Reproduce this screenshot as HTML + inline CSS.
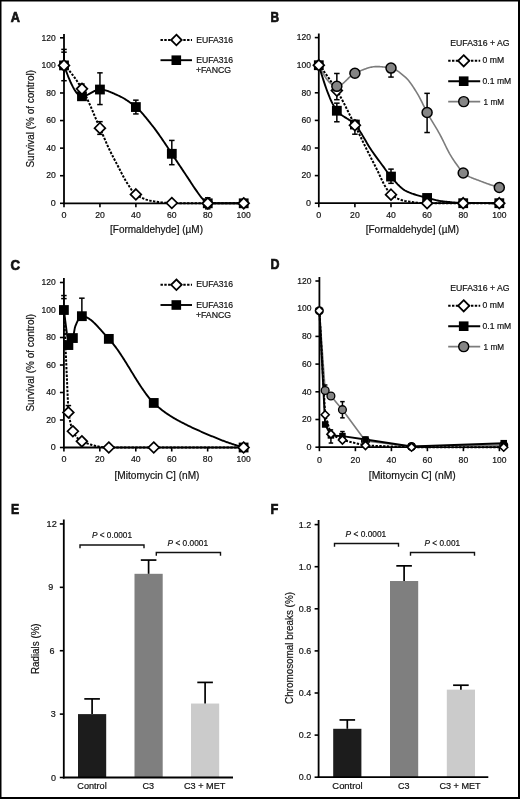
<!DOCTYPE html>
<html><head><meta charset="utf-8"><style>
html,body{margin:0;padding:0;background:#fff;}
body{width:520px;height:799px;overflow:hidden;font-family:"Liberation Sans", sans-serif;}
svg{display:block;filter:blur(0.35px);}
</style></head><body>
<svg width="520" height="799" viewBox="0 0 520 799" font-family='"Liberation Sans", sans-serif' fill="#111"><style>text{stroke:#111;stroke-width:0.2px;paint-order:stroke}</style><rect x="0" y="0" width="520" height="799" fill="#000"/><rect x="1.5" y="1.5" width="516.5" height="795.5" fill="#fff"/><text x="10.80" y="22.00" font-size="14" text-anchor="start" textLength="9.20" lengthAdjust="spacingAndGlyphs" font-weight="bold" style="stroke-width:0.7px">A</text><text x="270.60" y="22.30" font-size="14" text-anchor="start" textLength="8.60" lengthAdjust="spacingAndGlyphs" font-weight="bold" style="stroke-width:0.7px">B</text><text x="10.60" y="270.00" font-size="14" text-anchor="start" textLength="9.60" lengthAdjust="spacingAndGlyphs" font-weight="bold" style="stroke-width:0.7px">C</text><text x="270.60" y="269.40" font-size="14" text-anchor="start" textLength="9.00" lengthAdjust="spacingAndGlyphs" font-weight="bold" style="stroke-width:0.7px">D</text><text x="10.90" y="513.60" font-size="14" text-anchor="start" textLength="8.20" lengthAdjust="spacingAndGlyphs" font-weight="bold" style="stroke-width:0.7px">E</text><text x="270.60" y="513.60" font-size="14" text-anchor="start" textLength="7.80" lengthAdjust="spacingAndGlyphs" font-weight="bold" style="stroke-width:0.7px">F</text><line x1="64.00" y1="34.00" x2="64.00" y2="204.20" stroke="#000" stroke-width="1.8" /><line x1="60.00" y1="203.30" x2="64.00" y2="203.30" stroke="#000" stroke-width="1.6" /><text x="55.80" y="206.05" font-size="9" text-anchor="end" textLength="5.00" lengthAdjust="spacingAndGlyphs">0</text><line x1="60.00" y1="175.72" x2="64.00" y2="175.72" stroke="#000" stroke-width="1.6" /><text x="55.80" y="178.47" font-size="9" text-anchor="end" textLength="9.60" lengthAdjust="spacingAndGlyphs">20</text><line x1="60.00" y1="148.14" x2="64.00" y2="148.14" stroke="#000" stroke-width="1.6" /><text x="55.80" y="150.89" font-size="9" text-anchor="end" textLength="9.60" lengthAdjust="spacingAndGlyphs">40</text><line x1="60.00" y1="120.56" x2="64.00" y2="120.56" stroke="#000" stroke-width="1.6" /><text x="55.80" y="123.31" font-size="9" text-anchor="end" textLength="9.60" lengthAdjust="spacingAndGlyphs">60</text><line x1="60.00" y1="92.98" x2="64.00" y2="92.98" stroke="#000" stroke-width="1.6" /><text x="55.80" y="95.73" font-size="9" text-anchor="end" textLength="9.60" lengthAdjust="spacingAndGlyphs">80</text><line x1="60.00" y1="65.40" x2="64.00" y2="65.40" stroke="#000" stroke-width="1.6" /><text x="55.80" y="68.15" font-size="9" text-anchor="end" textLength="14.20" lengthAdjust="spacingAndGlyphs">100</text><line x1="60.00" y1="37.82" x2="64.00" y2="37.82" stroke="#000" stroke-width="1.6" /><text x="55.80" y="40.57" font-size="9" text-anchor="end" textLength="14.20" lengthAdjust="spacingAndGlyphs">120</text><line x1="63.10" y1="203.30" x2="243.70" y2="203.30" stroke="#000" stroke-width="1.8" /><line x1="64.00" y1="203.30" x2="64.00" y2="207.30" stroke="#000" stroke-width="1.6" /><text x="64.00" y="218.10" font-size="9" text-anchor="middle" textLength="5.00" lengthAdjust="spacingAndGlyphs">0</text><line x1="99.94" y1="203.30" x2="99.94" y2="207.30" stroke="#000" stroke-width="1.6" /><text x="99.94" y="218.10" font-size="9" text-anchor="middle" textLength="9.60" lengthAdjust="spacingAndGlyphs">20</text><line x1="135.88" y1="203.30" x2="135.88" y2="207.30" stroke="#000" stroke-width="1.6" /><text x="135.88" y="218.10" font-size="9" text-anchor="middle" textLength="9.60" lengthAdjust="spacingAndGlyphs">40</text><line x1="171.82" y1="203.30" x2="171.82" y2="207.30" stroke="#000" stroke-width="1.6" /><text x="171.82" y="218.10" font-size="9" text-anchor="middle" textLength="9.60" lengthAdjust="spacingAndGlyphs">60</text><line x1="207.76" y1="203.30" x2="207.76" y2="207.30" stroke="#000" stroke-width="1.6" /><text x="207.76" y="218.10" font-size="9" text-anchor="middle" textLength="9.60" lengthAdjust="spacingAndGlyphs">80</text><line x1="243.70" y1="203.30" x2="243.70" y2="207.30" stroke="#000" stroke-width="1.6" /><text x="243.70" y="218.10" font-size="9" text-anchor="middle" textLength="14.20" lengthAdjust="spacingAndGlyphs">100</text><text x="34.30" y="118.80" font-size="10.6" text-anchor="middle" textLength="97.50" lengthAdjust="spacingAndGlyphs" transform="rotate(-90 34.30 118.80)">Survival (% of control)</text><path d="M160.50,40.00 L192.00,40.00" fill="none" stroke="#000" stroke-width="2.0" stroke-linejoin="round" stroke-dasharray="2.4,1.4"/><path d="M176.40,34.70 L181.70,40.00 L176.40,45.30 L171.10,40.00 Z" fill="#fff" stroke="#000" stroke-width="1.8" stroke-linejoin="miter"/><text x="196.20" y="42.50" font-size="9" text-anchor="start" textLength="37.00" lengthAdjust="spacingAndGlyphs">EUFA316</text><line x1="160.50" y1="60.20" x2="192.00" y2="60.20" stroke="#000" stroke-width="1.9" /><rect x="171.50" y="55.40" width="9.60" height="9.60" fill="#000"/><text x="196.20" y="62.80" font-size="9" text-anchor="start" textLength="37.00" lengthAdjust="spacingAndGlyphs">EUFA316</text><text x="195.90" y="72.90" font-size="9" text-anchor="start" textLength="35.20" lengthAdjust="spacingAndGlyphs">+FANCG</text><text x="156.50" y="232.80" font-size="10.6" text-anchor="middle" textLength="93.00" lengthAdjust="spacingAndGlyphs">[Formaldehyde] (<tspan font-size="10.6">µ</tspan>M)</text><path d="M64.00,65.40 L64.90,67.88 L65.81,70.32 L66.71,72.70 L67.61,75.02 L68.52,77.27 L69.42,79.44 L70.32,81.53 L71.22,83.51 L72.13,85.38 L73.03,87.14 L73.93,88.78 L74.84,90.27 L75.74,91.63 L76.64,92.83 L77.55,93.87 L78.45,94.73 L79.35,95.41 L80.25,95.91 L81.16,96.20 L82.06,96.29 L82.96,96.23 L83.87,96.08 L84.77,95.85 L85.67,95.55 L86.58,95.19 L87.48,94.77 L88.38,94.32 L89.28,93.84 L90.19,93.34 L91.09,92.83 L91.99,92.33 L92.90,91.83 L93.80,91.36 L94.70,90.92 L95.61,90.52 L96.51,90.18 L97.41,89.90 L98.31,89.69 L99.22,89.56 L100.12,89.53 L101.02,89.57 L101.93,89.65 L102.83,89.77 L103.73,89.93 L104.64,90.13 L105.54,90.36 L106.44,90.62 L107.34,90.91 L108.25,91.22 L109.15,91.56 L110.05,91.92 L110.96,92.29 L111.86,92.68 L112.76,93.07 L113.67,93.47 L114.57,93.88 L115.47,94.29 L116.37,94.70 L117.28,95.10 L118.18,95.50 L119.08,95.91 L119.99,96.34 L120.89,96.79 L121.79,97.26 L122.70,97.76 L123.60,98.27 L124.50,98.81 L125.41,99.36 L126.31,99.94 L127.21,100.53 L128.11,101.14 L129.02,101.77 L129.92,102.41 L130.82,103.07 L131.73,103.75 L132.63,104.44 L133.53,105.14 L134.44,105.86 L135.34,106.60 L136.24,107.35 L137.14,108.14 L138.05,108.97 L138.95,109.84 L139.85,110.75 L140.76,111.70 L141.66,112.67 L142.56,113.68 L143.47,114.71 L144.37,115.76 L145.27,116.84 L146.17,117.93 L147.08,119.04 L147.98,120.16 L148.88,121.30 L149.79,122.43 L150.69,123.58 L151.59,124.72 L152.50,125.86 L153.40,127.01 L154.30,128.19 L155.20,129.39 L156.11,130.62 L157.01,131.87 L157.91,133.13 L158.82,134.42 L159.72,135.71 L160.62,137.02 L161.53,138.33 L162.43,139.65 L163.33,140.97 L164.23,142.29 L165.14,143.62 L166.04,144.97 L166.94,146.34 L167.85,147.72 L168.75,149.11 L169.65,150.49 L170.56,151.87 L171.46,153.25 L172.36,154.61 L173.26,155.97 L174.17,157.33 L175.07,158.69 L175.97,160.04 L176.88,161.39 L177.78,162.75 L178.68,164.10 L179.59,165.45 L180.49,166.80 L181.39,168.15 L182.29,169.50 L183.20,170.85 L184.10,172.20 L185.00,173.56 L185.91,174.91 L186.81,176.26 L187.71,177.62 L188.62,179.00 L189.52,180.39 L190.42,181.78 L191.33,183.18 L192.23,184.56 L193.13,185.94 L194.03,187.29 L194.94,188.62 L195.84,189.91 L196.74,191.17 L197.65,192.45 L198.55,193.73 L199.45,194.99 L200.36,196.22 L201.26,197.39 L202.16,198.47 L203.06,199.45 L203.97,200.31 L204.87,201.21 L205.77,202.07 L206.68,202.78 L207.58,203.22 L208.48,203.30 L209.39,203.30 L210.29,203.30 L211.19,203.30 L212.09,203.30 L213.00,203.30 L213.90,203.30 L214.80,203.30 L215.71,203.30 L216.61,203.30 L217.51,203.30 L218.42,203.30 L219.32,203.30 L220.22,203.30 L221.12,203.30 L222.03,203.30 L222.93,203.30 L223.83,203.30 L224.74,203.30 L225.64,203.30 L226.54,203.30 L227.45,203.30 L228.35,203.30 L229.25,203.30 L230.15,203.30 L231.06,203.30 L231.96,203.30 L232.86,203.30 L233.77,203.30 L234.67,203.30 L235.57,203.30 L236.48,203.30 L237.38,203.30 L238.28,203.30 L239.18,203.30 L240.09,203.30 L240.99,203.30 L241.89,203.30 L242.80,203.30 L243.70,203.30" fill="none" stroke="#000" stroke-width="1.9" stroke-linejoin="round"/><path d="M64.00,65.40 L64.90,66.20 L65.81,67.06 L66.71,67.96 L67.61,68.90 L68.52,69.89 L69.42,70.93 L70.32,72.00 L71.22,73.11 L72.13,74.26 L73.03,75.45 L73.93,76.67 L74.84,77.93 L75.74,79.22 L76.64,80.53 L77.55,81.88 L78.45,83.25 L79.35,84.65 L80.25,86.08 L81.16,87.52 L82.06,88.99 L82.96,90.52 L83.87,92.14 L84.77,93.85 L85.67,95.62 L86.58,97.47 L87.48,99.37 L88.38,101.33 L89.28,103.34 L90.19,105.38 L91.09,107.46 L91.99,109.57 L92.90,111.69 L93.80,113.83 L94.70,115.97 L95.61,118.11 L96.51,120.24 L97.41,122.36 L98.31,124.45 L99.22,126.52 L100.12,128.55 L101.02,130.59 L101.93,132.67 L102.83,134.76 L103.73,136.87 L104.64,138.97 L105.54,141.05 L106.44,143.10 L107.34,145.12 L108.25,147.08 L109.15,148.99 L110.05,150.85 L110.96,152.68 L111.86,154.47 L112.76,156.24 L113.67,157.99 L114.57,159.72 L115.47,161.44 L116.37,163.16 L117.28,164.87 L118.18,166.58 L119.08,168.32 L119.99,170.08 L120.89,171.85 L121.79,173.61 L122.70,175.35 L123.60,177.05 L124.50,178.71 L125.41,180.30 L126.31,181.81 L127.21,183.24 L128.11,184.62 L129.02,186.02 L129.92,187.41 L130.82,188.76 L131.73,190.05 L132.63,191.25 L133.53,192.34 L134.44,193.30 L135.34,194.09 L136.24,194.71 L137.14,195.27 L138.05,195.81 L138.95,196.32 L139.85,196.82 L140.76,197.28 L141.66,197.73 L142.56,198.15 L143.47,198.54 L144.37,198.91 L145.27,199.26 L146.17,199.58 L147.08,199.88 L147.98,200.16 L148.88,200.41 L149.79,200.64 L150.69,200.85 L151.59,201.03 L152.50,201.19 L153.40,201.33 L154.30,201.46 L155.20,201.59 L156.11,201.72 L157.01,201.84 L157.91,201.96 L158.82,202.07 L159.72,202.18 L160.62,202.28 L161.53,202.38 L162.43,202.47 L163.33,202.56 L164.23,202.64 L165.14,202.71 L166.04,202.77 L166.94,202.83 L167.85,202.89 L168.75,202.93 L169.65,202.97 L170.56,203.00 L171.46,203.02 L172.36,203.03 L173.26,203.05 L174.17,203.06 L175.07,203.07 L175.97,203.08 L176.88,203.10 L177.78,203.11 L178.68,203.12 L179.59,203.13 L180.49,203.14 L181.39,203.15 L182.29,203.16 L183.20,203.17 L184.10,203.18 L185.00,203.19 L185.91,203.20 L186.81,203.21 L187.71,203.22 L188.62,203.22 L189.52,203.23 L190.42,203.24 L191.33,203.24 L192.23,203.25 L193.13,203.25 L194.03,203.26 L194.94,203.27 L195.84,203.27 L196.74,203.27 L197.65,203.28 L198.55,203.28 L199.45,203.29 L200.36,203.29 L201.26,203.29 L202.16,203.29 L203.06,203.30 L203.97,203.30 L204.87,203.30 L205.77,203.30 L206.68,203.30 L207.58,203.30 L208.48,203.30 L209.39,203.30 L210.29,203.30 L211.19,203.30 L212.09,203.30 L213.00,203.30 L213.90,203.30 L214.80,203.30 L215.71,203.30 L216.61,203.30 L217.51,203.30 L218.42,203.30 L219.32,203.30 L220.22,203.30 L221.12,203.30 L222.03,203.30 L222.93,203.30 L223.83,203.30 L224.74,203.30 L225.64,203.30 L226.54,203.30 L227.45,203.30 L228.35,203.30 L229.25,203.30 L230.15,203.30 L231.06,203.30 L231.96,203.30 L232.86,203.30 L233.77,203.30 L234.67,203.30 L235.57,203.30 L236.48,203.30 L237.38,203.30 L238.28,203.30 L239.18,203.30 L240.09,203.30 L240.99,203.30 L241.89,203.30 L242.80,203.30 L243.70,203.30" fill="none" stroke="#000" stroke-width="2.0" stroke-linejoin="round" stroke-dasharray="2.4,1.4"/><line x1="64.00" y1="80.71" x2="64.00" y2="49.40" stroke="#000" stroke-width="1.5" /><line x1="61.25" y1="80.71" x2="66.75" y2="80.71" stroke="#000" stroke-width="1.5" /><line x1="61.25" y1="49.40" x2="66.75" y2="49.40" stroke="#000" stroke-width="1.5" /><line x1="99.94" y1="104.56" x2="99.94" y2="72.85" stroke="#000" stroke-width="1.5" /><line x1="97.19" y1="104.56" x2="102.69" y2="104.56" stroke="#000" stroke-width="1.5" /><line x1="97.19" y1="72.85" x2="102.69" y2="72.85" stroke="#000" stroke-width="1.5" /><line x1="135.88" y1="113.94" x2="135.88" y2="100.15" stroke="#000" stroke-width="1.5" /><line x1="133.13" y1="113.94" x2="138.63" y2="113.94" stroke="#000" stroke-width="1.5" /><line x1="133.13" y1="100.15" x2="138.63" y2="100.15" stroke="#000" stroke-width="1.5" /><line x1="171.82" y1="164.69" x2="171.82" y2="140.42" stroke="#000" stroke-width="1.5" /><line x1="169.07" y1="164.69" x2="174.57" y2="164.69" stroke="#000" stroke-width="1.5" /><line x1="169.07" y1="140.42" x2="174.57" y2="140.42" stroke="#000" stroke-width="1.5" /><line x1="207.76" y1="208.82" x2="207.76" y2="197.78" stroke="#000" stroke-width="1.5" /><line x1="205.01" y1="208.82" x2="210.51" y2="208.82" stroke="#000" stroke-width="1.5" /><line x1="205.01" y1="197.78" x2="210.51" y2="197.78" stroke="#000" stroke-width="1.5" /><line x1="64.00" y1="65.40" x2="64.00" y2="52.16" stroke="#000" stroke-width="1.5" /><line x1="61.25" y1="65.40" x2="66.75" y2="65.40" stroke="#000" stroke-width="1.5" /><line x1="61.25" y1="52.16" x2="66.75" y2="52.16" stroke="#000" stroke-width="1.5" /><line x1="81.97" y1="92.98" x2="81.97" y2="84.02" stroke="#000" stroke-width="1.5" /><line x1="79.22" y1="92.98" x2="84.72" y2="92.98" stroke="#000" stroke-width="1.5" /><line x1="79.22" y1="84.02" x2="84.72" y2="84.02" stroke="#000" stroke-width="1.5" /><line x1="99.94" y1="134.35" x2="99.94" y2="121.66" stroke="#000" stroke-width="1.5" /><line x1="97.19" y1="134.35" x2="102.69" y2="134.35" stroke="#000" stroke-width="1.5" /><line x1="97.19" y1="121.66" x2="102.69" y2="121.66" stroke="#000" stroke-width="1.5" /><rect x="59.10" y="60.50" width="9.80" height="9.80" fill="#000"/><rect x="77.07" y="91.39" width="9.80" height="9.80" fill="#000"/><rect x="95.04" y="84.63" width="9.80" height="9.80" fill="#000"/><rect x="130.98" y="102.15" width="9.80" height="9.80" fill="#000"/><rect x="166.92" y="148.89" width="9.80" height="9.80" fill="#000"/><rect x="202.86" y="198.40" width="9.80" height="9.80" fill="#000"/><rect x="238.80" y="198.40" width="9.80" height="9.80" fill="#000"/><path d="M64.00,60.00 L69.40,65.40 L64.00,70.80 L58.60,65.40 Z" fill="#fff" stroke="#000" stroke-width="1.7" stroke-linejoin="miter"/><path d="M81.97,83.44 L87.37,88.84 L81.97,94.24 L76.57,88.84 Z" fill="#fff" stroke="#000" stroke-width="1.7" stroke-linejoin="miter"/><path d="M99.94,122.74 L105.34,128.14 L99.94,133.54 L94.54,128.14 Z" fill="#fff" stroke="#000" stroke-width="1.7" stroke-linejoin="miter"/><path d="M135.88,189.07 L141.28,194.47 L135.88,199.87 L130.48,194.47 Z" fill="#fff" stroke="#000" stroke-width="1.7" stroke-linejoin="miter"/><path d="M171.82,197.62 L177.22,203.02 L171.82,208.42 L166.42,203.02 Z" fill="#fff" stroke="#000" stroke-width="1.7" stroke-linejoin="miter"/><path d="M207.76,197.90 L213.16,203.30 L207.76,208.70 L202.36,203.30 Z" fill="#fff" stroke="#000" stroke-width="1.7" stroke-linejoin="miter"/><path d="M243.70,197.90 L249.10,203.30 L243.70,208.70 L238.30,203.30 Z" fill="#fff" stroke="#000" stroke-width="1.7" stroke-linejoin="miter"/><line x1="63.90" y1="278.00" x2="63.90" y2="448.40" stroke="#000" stroke-width="1.8" /><line x1="59.90" y1="447.50" x2="63.90" y2="447.50" stroke="#000" stroke-width="1.6" /><text x="55.80" y="450.25" font-size="9" text-anchor="end" textLength="5.00" lengthAdjust="spacingAndGlyphs">0</text><line x1="59.90" y1="420.00" x2="63.90" y2="420.00" stroke="#000" stroke-width="1.6" /><text x="55.80" y="422.75" font-size="9" text-anchor="end" textLength="9.60" lengthAdjust="spacingAndGlyphs">20</text><line x1="59.90" y1="392.50" x2="63.90" y2="392.50" stroke="#000" stroke-width="1.6" /><text x="55.80" y="395.25" font-size="9" text-anchor="end" textLength="9.60" lengthAdjust="spacingAndGlyphs">40</text><line x1="59.90" y1="365.00" x2="63.90" y2="365.00" stroke="#000" stroke-width="1.6" /><text x="55.80" y="367.75" font-size="9" text-anchor="end" textLength="9.60" lengthAdjust="spacingAndGlyphs">60</text><line x1="59.90" y1="337.50" x2="63.90" y2="337.50" stroke="#000" stroke-width="1.6" /><text x="55.80" y="340.25" font-size="9" text-anchor="end" textLength="9.60" lengthAdjust="spacingAndGlyphs">80</text><line x1="59.90" y1="310.00" x2="63.90" y2="310.00" stroke="#000" stroke-width="1.6" /><text x="55.80" y="312.75" font-size="9" text-anchor="end" textLength="14.20" lengthAdjust="spacingAndGlyphs">100</text><line x1="59.90" y1="282.50" x2="63.90" y2="282.50" stroke="#000" stroke-width="1.6" /><text x="55.80" y="285.25" font-size="9" text-anchor="end" textLength="14.20" lengthAdjust="spacingAndGlyphs">120</text><line x1="63.00" y1="447.50" x2="243.60" y2="447.50" stroke="#000" stroke-width="1.8" /><line x1="63.90" y1="447.50" x2="63.90" y2="451.50" stroke="#000" stroke-width="1.6" /><text x="63.90" y="462.30" font-size="9" text-anchor="middle" textLength="5.00" lengthAdjust="spacingAndGlyphs">0</text><line x1="99.84" y1="447.50" x2="99.84" y2="451.50" stroke="#000" stroke-width="1.6" /><text x="99.84" y="462.30" font-size="9" text-anchor="middle" textLength="9.60" lengthAdjust="spacingAndGlyphs">20</text><line x1="135.78" y1="447.50" x2="135.78" y2="451.50" stroke="#000" stroke-width="1.6" /><text x="135.78" y="462.30" font-size="9" text-anchor="middle" textLength="9.60" lengthAdjust="spacingAndGlyphs">40</text><line x1="171.72" y1="447.50" x2="171.72" y2="451.50" stroke="#000" stroke-width="1.6" /><text x="171.72" y="462.30" font-size="9" text-anchor="middle" textLength="9.60" lengthAdjust="spacingAndGlyphs">60</text><line x1="207.66" y1="447.50" x2="207.66" y2="451.50" stroke="#000" stroke-width="1.6" /><text x="207.66" y="462.30" font-size="9" text-anchor="middle" textLength="9.60" lengthAdjust="spacingAndGlyphs">80</text><line x1="243.60" y1="447.50" x2="243.60" y2="451.50" stroke="#000" stroke-width="1.6" /><text x="243.60" y="462.30" font-size="9" text-anchor="middle" textLength="14.20" lengthAdjust="spacingAndGlyphs">100</text><text x="34.30" y="362.80" font-size="10.6" text-anchor="middle" textLength="97.50" lengthAdjust="spacingAndGlyphs" transform="rotate(-90 34.30 362.80)">Survival (% of control)</text><path d="M160.50,284.80 L192.00,284.80" fill="none" stroke="#000" stroke-width="2.0" stroke-linejoin="round" stroke-dasharray="2.4,1.4"/><path d="M176.40,279.50 L181.70,284.80 L176.40,290.10 L171.10,284.80 Z" fill="#fff" stroke="#000" stroke-width="1.8" stroke-linejoin="miter"/><text x="196.20" y="287.30" font-size="9" text-anchor="start" textLength="37.00" lengthAdjust="spacingAndGlyphs">EUFA316</text><line x1="160.50" y1="305.00" x2="192.00" y2="305.00" stroke="#000" stroke-width="1.9" /><rect x="171.50" y="300.20" width="9.60" height="9.60" fill="#000"/><text x="196.20" y="307.60" font-size="9" text-anchor="start" textLength="37.00" lengthAdjust="spacingAndGlyphs">EUFA316</text><text x="195.90" y="317.70" font-size="9" text-anchor="start" textLength="35.20" lengthAdjust="spacingAndGlyphs">+FANCG</text><text x="157.00" y="478.60" font-size="10.6" text-anchor="middle" textLength="85.00" lengthAdjust="spacingAndGlyphs">[Mitomycin C] (nM)</text><path d="M63.90,310.00 L68.39,345.06 L68.98,344.90 L69.56,344.45 L70.15,343.73 L70.74,342.80 L71.32,341.67 L71.91,340.40 L72.49,339.02 L73.08,337.45 L73.67,334.62 L74.25,331.08 L74.84,327.89 L75.42,325.98 L76.01,324.52 L76.60,323.13 L77.18,321.83 L77.77,320.62 L78.35,319.53 L78.94,318.57 L79.53,317.75 L80.11,317.09 L80.70,316.60 L81.28,316.29 L81.87,316.19 L82.46,316.21 L83.04,316.26 L83.63,316.35 L84.21,316.48 L84.80,316.64 L85.39,316.83 L85.97,317.06 L86.56,317.31 L87.14,317.59 L87.73,317.90 L88.32,318.24 L88.90,318.61 L89.49,319.00 L90.07,319.41 L90.66,319.85 L91.25,320.31 L91.83,320.79 L92.42,321.29 L93.00,321.80 L93.59,322.34 L94.18,322.89 L94.76,323.46 L95.35,324.04 L95.93,324.63 L96.52,325.24 L97.11,325.86 L97.69,326.49 L98.28,327.12 L98.86,327.77 L99.45,328.42 L100.04,329.07 L100.62,329.74 L101.21,330.40 L101.79,331.07 L102.38,331.74 L102.97,332.41 L103.55,333.07 L104.14,333.74 L104.72,334.40 L105.31,335.06 L105.90,335.72 L106.48,336.37 L107.07,337.01 L107.65,337.64 L108.24,338.26 L108.82,338.88 L109.41,339.49 L110.00,340.13 L110.58,340.78 L111.17,341.45 L111.75,342.14 L112.34,342.84 L112.93,343.56 L113.51,344.29 L114.10,345.04 L114.68,345.81 L115.27,346.58 L115.86,347.37 L116.44,348.18 L117.03,348.99 L117.61,349.82 L118.20,350.66 L118.79,351.51 L119.37,352.37 L119.96,353.24 L120.54,354.12 L121.13,355.01 L121.72,355.90 L122.30,356.81 L122.89,357.72 L123.47,358.63 L124.06,359.56 L124.65,360.49 L125.23,361.42 L125.82,362.36 L126.40,363.31 L126.99,364.25 L127.58,365.20 L128.16,366.16 L128.75,367.11 L129.33,368.07 L129.92,369.03 L130.51,369.99 L131.09,370.95 L131.68,371.91 L132.26,372.87 L132.85,373.82 L133.44,374.78 L134.02,375.73 L134.61,376.68 L135.19,377.63 L135.78,378.57 L136.37,379.51 L136.95,380.44 L137.54,381.37 L138.12,382.29 L138.71,383.21 L139.30,384.12 L139.88,385.02 L140.47,385.91 L141.05,386.80 L141.64,387.68 L142.23,388.54 L142.81,389.40 L143.40,390.25 L143.98,391.08 L144.57,391.91 L145.16,392.72 L145.74,393.52 L146.33,394.31 L146.91,395.08 L147.50,395.84 L148.09,396.59 L148.67,397.32 L149.26,398.03 L149.84,398.73 L150.43,399.42 L151.02,400.08 L151.60,400.73 L152.19,401.36 L152.77,401.97 L153.36,402.57 L153.95,403.14 L154.53,403.70 L155.12,404.25 L155.70,404.80 L156.29,405.33 L156.88,405.85 L157.46,406.37 L158.05,406.88 L158.63,407.38 L159.22,407.87 L159.81,408.35 L160.39,408.82 L160.98,409.29 L161.56,409.75 L162.15,410.21 L162.73,410.65 L163.32,411.09 L163.91,411.52 L164.49,411.95 L165.08,412.37 L165.66,412.79 L166.25,413.20 L166.84,413.60 L167.42,414.00 L168.01,414.40 L168.59,414.79 L169.18,415.17 L169.77,415.55 L170.35,415.93 L170.94,416.30 L171.52,416.66 L172.11,417.02 L172.70,417.38 L173.28,417.73 L173.87,418.08 L174.45,418.42 L175.04,418.76 L175.63,419.10 L176.21,419.43 L176.80,419.76 L177.38,420.08 L177.97,420.40 L178.56,420.72 L179.14,421.04 L179.73,421.35 L180.31,421.66 L180.90,421.97 L181.49,422.27 L182.07,422.58 L182.66,422.88 L183.24,423.18 L183.83,423.47 L184.42,423.77 L185.00,424.07 L185.59,424.36 L186.17,424.65 L186.76,424.94 L187.35,425.24 L187.93,425.53 L188.52,425.82 L189.10,426.11 L189.69,426.39 L190.28,426.68 L190.86,426.96 L191.45,427.24 L192.03,427.52 L192.62,427.80 L193.21,428.07 L193.79,428.34 L194.38,428.62 L194.96,428.88 L195.55,429.15 L196.14,429.42 L196.72,429.68 L197.31,429.95 L197.89,430.21 L198.48,430.47 L199.07,430.73 L199.65,430.99 L200.24,431.25 L200.82,431.50 L201.41,431.76 L202.00,432.01 L202.58,432.27 L203.17,432.52 L203.75,432.77 L204.34,433.02 L204.93,433.27 L205.51,433.52 L206.10,433.77 L206.68,434.02 L207.27,434.27 L207.86,434.52 L208.44,434.77 L209.03,435.02 L209.61,435.26 L210.20,435.51 L210.79,435.76 L211.37,436.01 L211.96,436.25 L212.54,436.50 L213.13,436.74 L213.72,436.99 L214.30,437.23 L214.89,437.47 L215.47,437.72 L216.06,437.96 L216.65,438.20 L217.23,438.44 L217.82,438.67 L218.40,438.91 L218.99,439.14 L219.57,439.38 L220.16,439.61 L220.75,439.84 L221.33,440.07 L221.92,440.29 L222.50,440.52 L223.09,440.74 L223.68,440.96 L224.26,441.18 L224.85,441.40 L225.43,441.61 L226.02,441.83 L226.61,442.04 L227.19,442.25 L227.78,442.45 L228.36,442.66 L228.95,442.86 L229.54,443.07 L230.12,443.27 L230.71,443.47 L231.29,443.67 L231.88,443.86 L232.47,444.06 L233.05,444.25 L233.64,444.45 L234.22,444.64 L234.81,444.83 L235.40,445.02 L235.98,445.20 L236.57,445.39 L237.15,445.57 L237.74,445.76 L238.33,445.94 L238.91,446.12 L239.50,446.30 L240.08,446.47 L240.67,446.65 L241.26,446.82 L241.84,446.99 L242.43,447.16 L243.01,447.33 L243.60,447.50" fill="none" stroke="#000" stroke-width="1.9" stroke-linejoin="round"/><path d="M63.90,310.00 L68.39,412.44 L69.27,417.03 L70.15,421.46 L71.03,425.45 L71.91,428.75 L72.79,431.10 L73.68,432.71 L74.56,434.17 L75.44,435.49 L76.32,436.67 L77.20,437.73 L78.08,438.66 L78.96,439.47 L79.84,440.15 L80.72,440.73 L81.60,441.19 L82.48,441.57 L83.36,441.94 L84.24,442.29 L85.12,442.64 L86.00,442.97 L86.88,443.30 L87.76,443.61 L88.64,443.91 L89.52,444.20 L90.40,444.49 L91.28,444.76 L92.16,445.01 L93.04,445.26 L93.93,445.49 L94.81,445.72 L95.69,445.93 L96.57,446.13 L97.45,446.31 L98.33,446.48 L99.21,446.64 L100.09,446.79 L100.97,446.92 L101.85,447.04 L102.73,447.15 L103.61,447.24 L104.49,447.32 L105.37,447.39 L106.25,447.44 L107.13,447.47 L108.01,447.49 L108.89,447.50 L109.77,447.50 L110.65,447.50 L111.53,447.50 L112.41,447.50 L113.29,447.50 L114.18,447.50 L115.06,447.50 L115.94,447.50 L116.82,447.50 L117.70,447.50 L118.58,447.50 L119.46,447.50 L120.34,447.50 L121.22,447.50 L122.10,447.50 L122.98,447.50 L123.86,447.50 L124.74,447.50 L125.62,447.50 L126.50,447.50 L127.38,447.50 L128.26,447.50 L129.14,447.50 L130.02,447.50 L130.90,447.50 L131.78,447.50 L132.66,447.50 L133.55,447.50 L134.43,447.50 L135.31,447.50 L136.19,447.50 L137.07,447.50 L137.95,447.50 L138.83,447.50 L139.71,447.50 L140.59,447.50 L141.47,447.50 L142.35,447.50 L143.23,447.50 L144.11,447.50 L144.99,447.50 L145.87,447.50 L146.75,447.50 L147.63,447.50 L148.51,447.50 L149.39,447.50 L150.27,447.50 L151.15,447.50 L152.03,447.50 L152.91,447.50 L153.80,447.50 L154.68,447.50 L155.56,447.50 L156.44,447.50 L157.32,447.50 L158.20,447.50 L159.08,447.50 L159.96,447.50 L160.84,447.50 L161.72,447.50 L162.60,447.50 L163.48,447.50 L164.36,447.50 L165.24,447.50 L166.12,447.50 L167.00,447.50 L167.88,447.50 L168.76,447.50 L169.64,447.50 L170.52,447.50 L171.40,447.50 L172.28,447.50 L173.16,447.50 L174.05,447.50 L174.93,447.50 L175.81,447.50 L176.69,447.50 L177.57,447.50 L178.45,447.50 L179.33,447.50 L180.21,447.50 L181.09,447.50 L181.97,447.50 L182.85,447.50 L183.73,447.50 L184.61,447.50 L185.49,447.50 L186.37,447.50 L187.25,447.50 L188.13,447.50 L189.01,447.50 L189.89,447.50 L190.77,447.50 L191.65,447.50 L192.53,447.50 L193.41,447.50 L194.30,447.50 L195.18,447.50 L196.06,447.50 L196.94,447.50 L197.82,447.50 L198.70,447.50 L199.58,447.50 L200.46,447.50 L201.34,447.50 L202.22,447.50 L203.10,447.50 L203.98,447.50 L204.86,447.50 L205.74,447.50 L206.62,447.50 L207.50,447.50 L208.38,447.50 L209.26,447.50 L210.14,447.50 L211.02,447.50 L211.90,447.50 L212.78,447.50 L213.67,447.50 L214.55,447.50 L215.43,447.50 L216.31,447.50 L217.19,447.50 L218.07,447.50 L218.95,447.50 L219.83,447.50 L220.71,447.50 L221.59,447.50 L222.47,447.50 L223.35,447.50 L224.23,447.50 L225.11,447.50 L225.99,447.50 L226.87,447.50 L227.75,447.50 L228.63,447.50 L229.51,447.50 L230.39,447.50 L231.27,447.50 L232.15,447.50 L233.03,447.50 L233.92,447.50 L234.80,447.50 L235.68,447.50 L236.56,447.50 L237.44,447.50 L238.32,447.50 L239.20,447.50 L240.08,447.50 L240.96,447.50 L241.84,447.50 L242.72,447.50 L243.60,447.50" fill="none" stroke="#000" stroke-width="2.0" stroke-linejoin="round" stroke-dasharray="2.4,1.4"/><line x1="63.90" y1="310.00" x2="63.90" y2="295.56" stroke="#000" stroke-width="1.5" /><line x1="61.15" y1="310.00" x2="66.65" y2="310.00" stroke="#000" stroke-width="1.5" /><line x1="61.15" y1="295.56" x2="66.65" y2="295.56" stroke="#000" stroke-width="1.5" /><line x1="61.15" y1="298.59" x2="66.65" y2="298.59" stroke="#000" stroke-width="1.5" /><line x1="81.87" y1="316.19" x2="81.87" y2="298.18" stroke="#000" stroke-width="1.5" /><line x1="79.12" y1="316.19" x2="84.62" y2="316.19" stroke="#000" stroke-width="1.5" /><line x1="79.12" y1="298.18" x2="84.62" y2="298.18" stroke="#000" stroke-width="1.5" /><line x1="68.39" y1="412.44" x2="68.39" y2="405.56" stroke="#000" stroke-width="1.5" /><line x1="65.64" y1="412.44" x2="71.14" y2="412.44" stroke="#000" stroke-width="1.5" /><line x1="65.64" y1="405.56" x2="71.14" y2="405.56" stroke="#000" stroke-width="1.5" /><rect x="59.00" y="305.10" width="9.80" height="9.80" fill="#000"/><rect x="63.49" y="340.16" width="9.80" height="9.80" fill="#000"/><rect x="67.98" y="333.15" width="9.80" height="9.80" fill="#000"/><rect x="76.97" y="311.29" width="9.80" height="9.80" fill="#000"/><rect x="103.92" y="333.98" width="9.80" height="9.80" fill="#000"/><rect x="148.85" y="398.05" width="9.80" height="9.80" fill="#000"/><rect x="238.70" y="442.60" width="9.80" height="9.80" fill="#000"/><path d="M68.39,407.04 L73.79,412.44 L68.39,417.84 L62.99,412.44 Z" fill="#fff" stroke="#000" stroke-width="1.7" stroke-linejoin="miter"/><path d="M72.88,425.88 L78.28,431.27 L72.88,436.67 L67.48,431.27 Z" fill="#fff" stroke="#000" stroke-width="1.7" stroke-linejoin="miter"/><path d="M81.87,435.91 L87.27,441.31 L81.87,446.71 L76.47,441.31 Z" fill="#fff" stroke="#000" stroke-width="1.7" stroke-linejoin="miter"/><path d="M108.82,442.10 L114.22,447.50 L108.82,452.90 L103.42,447.50 Z" fill="#fff" stroke="#000" stroke-width="1.7" stroke-linejoin="miter"/><path d="M153.75,442.10 L159.15,447.50 L153.75,452.90 L148.35,447.50 Z" fill="#fff" stroke="#000" stroke-width="1.7" stroke-linejoin="miter"/><path d="M243.60,442.10 L249.00,447.50 L243.60,452.90 L238.20,447.50 Z" fill="#fff" stroke="#000" stroke-width="1.7" stroke-linejoin="miter"/><line x1="318.80" y1="33.50" x2="318.80" y2="204.10" stroke="#000" stroke-width="1.8" /><line x1="314.80" y1="203.20" x2="318.80" y2="203.20" stroke="#000" stroke-width="1.6" /><text x="311.00" y="205.95" font-size="9" text-anchor="end" textLength="5.00" lengthAdjust="spacingAndGlyphs">0</text><line x1="314.80" y1="175.60" x2="318.80" y2="175.60" stroke="#000" stroke-width="1.6" /><text x="311.00" y="178.35" font-size="9" text-anchor="end" textLength="9.60" lengthAdjust="spacingAndGlyphs">20</text><line x1="314.80" y1="148.00" x2="318.80" y2="148.00" stroke="#000" stroke-width="1.6" /><text x="311.00" y="150.75" font-size="9" text-anchor="end" textLength="9.60" lengthAdjust="spacingAndGlyphs">40</text><line x1="314.80" y1="120.40" x2="318.80" y2="120.40" stroke="#000" stroke-width="1.6" /><text x="311.00" y="123.15" font-size="9" text-anchor="end" textLength="9.60" lengthAdjust="spacingAndGlyphs">60</text><line x1="314.80" y1="92.80" x2="318.80" y2="92.80" stroke="#000" stroke-width="1.6" /><text x="311.00" y="95.55" font-size="9" text-anchor="end" textLength="9.60" lengthAdjust="spacingAndGlyphs">80</text><line x1="314.80" y1="65.20" x2="318.80" y2="65.20" stroke="#000" stroke-width="1.6" /><text x="311.00" y="67.95" font-size="9" text-anchor="end" textLength="14.20" lengthAdjust="spacingAndGlyphs">100</text><line x1="314.80" y1="37.60" x2="318.80" y2="37.60" stroke="#000" stroke-width="1.6" /><text x="311.00" y="40.35" font-size="9" text-anchor="end" textLength="14.20" lengthAdjust="spacingAndGlyphs">120</text><line x1="317.90" y1="203.20" x2="499.30" y2="203.20" stroke="#000" stroke-width="1.8" /><line x1="318.80" y1="203.20" x2="318.80" y2="207.20" stroke="#000" stroke-width="1.6" /><text x="318.80" y="218.00" font-size="9" text-anchor="middle" textLength="5.00" lengthAdjust="spacingAndGlyphs">0</text><line x1="354.90" y1="203.20" x2="354.90" y2="207.20" stroke="#000" stroke-width="1.6" /><text x="354.90" y="218.00" font-size="9" text-anchor="middle" textLength="9.60" lengthAdjust="spacingAndGlyphs">20</text><line x1="391.00" y1="203.20" x2="391.00" y2="207.20" stroke="#000" stroke-width="1.6" /><text x="391.00" y="218.00" font-size="9" text-anchor="middle" textLength="9.60" lengthAdjust="spacingAndGlyphs">40</text><line x1="427.10" y1="203.20" x2="427.10" y2="207.20" stroke="#000" stroke-width="1.6" /><text x="427.10" y="218.00" font-size="9" text-anchor="middle" textLength="9.60" lengthAdjust="spacingAndGlyphs">60</text><line x1="463.20" y1="203.20" x2="463.20" y2="207.20" stroke="#000" stroke-width="1.6" /><text x="463.20" y="218.00" font-size="9" text-anchor="middle" textLength="9.60" lengthAdjust="spacingAndGlyphs">80</text><line x1="499.30" y1="203.20" x2="499.30" y2="207.20" stroke="#000" stroke-width="1.6" /><text x="499.30" y="218.00" font-size="9" text-anchor="middle" textLength="14.20" lengthAdjust="spacingAndGlyphs">100</text><text x="412.40" y="233.30" font-size="10.6" text-anchor="middle" textLength="93.50" lengthAdjust="spacingAndGlyphs">[Formaldehyde] (µM)</text><text x="450.30" y="45.60" font-size="9" text-anchor="start" textLength="59.20" lengthAdjust="spacingAndGlyphs">EUFA316 + AG</text><path d="M448.20,60.80 L480.20,60.80" fill="none" stroke="#000" stroke-width="2.0" stroke-linejoin="round" stroke-dasharray="2.4,1.4"/><path d="M463.70,55.20 L469.30,60.80 L463.70,66.40 L458.10,60.80 Z" fill="#fff" stroke="#000" stroke-width="1.8" stroke-linejoin="miter"/><text x="482.60" y="63.40" font-size="9" text-anchor="start" textLength="21.60" lengthAdjust="spacingAndGlyphs">0 mM</text><line x1="448.20" y1="81.20" x2="480.20" y2="81.20" stroke="#000" stroke-width="1.9" /><rect x="458.90" y="76.40" width="9.60" height="9.60" fill="#000"/><text x="482.60" y="84.20" font-size="9" text-anchor="start" textLength="28.60" lengthAdjust="spacingAndGlyphs">0.1 mM</text><line x1="448.20" y1="101.60" x2="480.20" y2="101.60" stroke="#7c7c7c" stroke-width="1.6" /><circle cx="463.70" cy="101.60" r="5.00" fill="#858585" stroke="#000" stroke-width="1.4"/><text x="483.60" y="104.60" font-size="9" text-anchor="start" textLength="20.40" lengthAdjust="spacingAndGlyphs">1 mM</text><path d="M318.80,65.20 L319.71,67.09 L320.61,68.91 L321.52,70.65 L322.43,72.32 L323.34,73.91 L324.24,75.42 L325.15,76.85 L326.06,78.19 L326.96,79.44 L327.87,80.59 L328.78,81.65 L329.68,82.61 L330.59,83.46 L331.50,84.21 L332.41,84.85 L333.31,85.38 L334.22,85.79 L335.13,86.09 L336.03,86.26 L336.94,86.31 L337.85,86.22 L338.75,85.99 L339.66,85.62 L340.57,85.14 L341.48,84.56 L342.38,83.89 L343.29,83.14 L344.20,82.34 L345.10,81.49 L346.01,80.61 L346.92,79.71 L347.83,78.81 L348.73,77.91 L349.64,77.05 L350.55,76.22 L351.45,75.44 L352.36,74.73 L353.27,74.09 L354.17,73.56 L355.08,73.12 L355.99,72.73 L356.90,72.33 L357.80,71.93 L358.71,71.53 L359.62,71.14 L360.52,70.75 L361.43,70.37 L362.34,70.00 L363.24,69.64 L364.15,69.29 L365.06,68.95 L365.97,68.63 L366.87,68.33 L367.78,68.04 L368.69,67.78 L369.59,67.53 L370.50,67.31 L371.41,67.12 L372.32,66.95 L373.22,66.81 L374.13,66.71 L375.04,66.63 L375.94,66.59 L376.85,66.58 L377.76,66.59 L378.66,66.62 L379.57,66.66 L380.48,66.72 L381.39,66.78 L382.29,66.86 L383.20,66.95 L384.11,67.05 L385.01,67.16 L385.92,67.28 L386.83,67.41 L387.73,67.55 L388.64,67.69 L389.55,67.84 L390.46,68.00 L391.36,68.17 L392.27,68.40 L393.18,68.70 L394.08,69.06 L394.99,69.48 L395.90,69.96 L396.81,70.49 L397.71,71.07 L398.62,71.69 L399.53,72.35 L400.43,73.05 L401.34,73.77 L402.25,74.52 L403.15,75.29 L404.06,76.08 L404.97,76.88 L405.88,77.69 L406.78,78.55 L407.69,79.52 L408.60,80.57 L409.50,81.70 L410.41,82.90 L411.32,84.16 L412.22,85.49 L413.13,86.86 L414.04,88.27 L414.95,89.71 L415.85,91.18 L416.76,92.67 L417.67,94.17 L418.57,95.68 L419.48,97.29 L420.39,99.01 L421.29,100.80 L422.20,102.65 L423.11,104.53 L424.02,106.42 L424.92,108.28 L425.83,110.10 L426.74,111.86 L427.64,113.53 L428.55,115.15 L429.46,116.74 L430.37,118.30 L431.27,119.83 L432.18,121.35 L433.09,122.86 L433.99,124.36 L434.90,125.86 L435.81,127.38 L436.71,128.91 L437.62,130.45 L438.53,132.03 L439.44,133.64 L440.34,135.29 L441.25,137.00 L442.16,138.78 L443.06,140.62 L443.97,142.48 L444.88,144.36 L445.78,146.23 L446.69,148.09 L447.60,149.90 L448.51,151.66 L449.41,153.34 L450.32,154.93 L451.23,156.44 L452.13,157.89 L453.04,159.30 L453.95,160.67 L454.86,162.00 L455.76,163.30 L456.67,164.57 L457.58,165.82 L458.48,167.07 L459.39,168.38 L460.30,169.67 L461.20,170.90 L462.11,171.97 L463.02,172.84 L463.93,173.51 L464.83,174.13 L465.74,174.71 L466.65,175.25 L467.55,175.76 L468.46,176.24 L469.37,176.69 L470.27,177.12 L471.18,177.52 L472.09,177.91 L473.00,178.28 L473.90,178.63 L474.81,178.98 L475.72,179.32 L476.62,179.65 L477.53,179.99 L478.44,180.32 L479.35,180.66 L480.25,181.01 L481.16,181.37 L482.07,181.72 L482.97,182.07 L483.88,182.41 L484.79,182.75 L485.69,183.09 L486.60,183.42 L487.51,183.75 L488.42,184.07 L489.32,184.38 L490.23,184.69 L491.14,185.00 L492.04,185.30 L492.95,185.59 L493.86,185.88 L494.76,186.16 L495.67,186.43 L496.58,186.70 L497.49,186.96 L498.39,187.22 L499.30,187.47" fill="none" stroke="#7c7c7c" stroke-width="1.6" stroke-linejoin="round"/><path d="M318.80,65.20 L319.71,68.24 L320.61,71.23 L321.52,74.18 L322.43,77.07 L323.34,79.89 L324.24,82.65 L325.15,85.34 L326.06,87.94 L326.96,90.45 L327.87,92.87 L328.78,95.20 L329.68,97.41 L330.59,99.51 L331.50,101.50 L332.41,103.36 L333.31,105.09 L334.22,106.68 L335.13,108.13 L336.03,109.43 L336.94,110.57 L337.85,111.59 L338.75,112.53 L339.66,113.38 L340.57,114.16 L341.48,114.89 L342.38,115.56 L343.29,116.19 L344.20,116.78 L345.10,117.36 L346.01,117.92 L346.92,118.47 L347.83,119.02 L348.73,119.59 L349.64,120.19 L350.55,120.81 L351.45,121.48 L352.36,122.19 L353.27,122.97 L354.17,123.81 L355.08,124.73 L355.99,125.75 L356.90,126.87 L357.80,128.08 L358.71,129.37 L359.62,130.73 L360.52,132.15 L361.43,133.62 L362.34,135.12 L363.24,136.66 L364.15,138.22 L365.06,139.78 L365.97,141.35 L366.87,142.91 L367.78,144.45 L368.69,145.96 L369.59,147.42 L370.50,148.84 L371.41,150.20 L372.32,151.52 L373.22,152.81 L374.13,154.09 L375.04,155.36 L375.94,156.61 L376.85,157.86 L377.76,159.09 L378.66,160.32 L379.57,161.55 L380.48,162.77 L381.39,163.99 L382.29,165.21 L383.20,166.44 L384.11,167.68 L385.01,168.94 L385.92,170.21 L386.83,171.48 L387.73,172.73 L388.64,173.94 L389.55,175.11 L390.46,176.21 L391.36,177.25 L392.27,178.28 L393.18,179.32 L394.08,180.35 L394.99,181.37 L395.90,182.38 L396.81,183.37 L397.71,184.34 L398.62,185.27 L399.53,186.17 L400.43,187.02 L401.34,187.83 L402.25,188.58 L403.15,189.28 L404.06,189.91 L404.97,190.47 L405.88,190.95 L406.78,191.39 L407.69,191.81 L408.60,192.21 L409.50,192.59 L410.41,192.95 L411.32,193.29 L412.22,193.62 L413.13,193.93 L414.04,194.23 L414.95,194.52 L415.85,194.80 L416.76,195.07 L417.67,195.33 L418.57,195.58 L419.48,195.83 L420.39,196.07 L421.29,196.30 L422.20,196.54 L423.11,196.77 L424.02,197.01 L424.92,197.24 L425.83,197.48 L426.74,197.72 L427.64,197.97 L428.55,198.21 L429.46,198.47 L430.37,198.72 L431.27,198.97 L432.18,199.21 L433.09,199.45 L433.99,199.69 L434.90,199.92 L435.81,200.14 L436.71,200.34 L437.62,200.53 L438.53,200.71 L439.44,200.87 L440.34,201.02 L441.25,201.14 L442.16,201.25 L443.06,201.36 L443.97,201.47 L444.88,201.58 L445.78,201.68 L446.69,201.78 L447.60,201.88 L448.51,201.98 L449.41,202.07 L450.32,202.16 L451.23,202.25 L452.13,202.33 L453.04,202.40 L453.95,202.48 L454.86,202.54 L455.76,202.61 L456.67,202.67 L457.58,202.72 L458.48,202.77 L459.39,202.81 L460.30,202.85 L461.20,202.88 L462.11,202.90 L463.02,202.92 L463.93,202.93 L464.83,202.95 L465.74,202.96 L466.65,202.97 L467.55,202.99 L468.46,203.00 L469.37,203.01 L470.27,203.02 L471.18,203.03 L472.09,203.04 L473.00,203.05 L473.90,203.06 L474.81,203.07 L475.72,203.08 L476.62,203.09 L477.53,203.10 L478.44,203.11 L479.35,203.11 L480.25,203.12 L481.16,203.13 L482.07,203.14 L482.97,203.14 L483.88,203.15 L484.79,203.15 L485.69,203.16 L486.60,203.16 L487.51,203.17 L488.42,203.17 L489.32,203.18 L490.23,203.18 L491.14,203.19 L492.04,203.19 L492.95,203.19 L493.86,203.19 L494.76,203.20 L495.67,203.20 L496.58,203.20 L497.49,203.20 L498.39,203.20 L499.30,203.20" fill="none" stroke="#000" stroke-width="1.9" stroke-linejoin="round"/><path d="M318.80,65.20 L319.71,66.26 L320.61,67.34 L321.52,68.45 L322.43,69.58 L323.34,70.74 L324.24,71.93 L325.15,73.13 L326.06,74.37 L326.96,75.62 L327.87,76.89 L328.78,78.19 L329.68,79.51 L330.59,80.85 L331.50,82.20 L332.41,83.58 L333.31,84.98 L334.22,86.39 L335.13,87.82 L336.03,89.27 L336.94,90.74 L337.85,92.24 L338.75,93.78 L339.66,95.37 L340.57,96.99 L341.48,98.65 L342.38,100.34 L343.29,102.05 L344.20,103.80 L345.10,105.56 L346.01,107.35 L346.92,109.15 L347.83,110.96 L348.73,112.79 L349.64,114.62 L350.55,116.46 L351.45,118.29 L352.36,120.13 L353.27,121.96 L354.17,123.78 L355.08,125.59 L355.99,127.42 L356.90,129.27 L357.80,131.13 L358.71,133.01 L359.62,134.90 L360.52,136.79 L361.43,138.68 L362.34,140.56 L363.24,142.43 L364.15,144.28 L365.06,146.12 L365.97,147.94 L366.87,149.75 L367.78,151.55 L368.69,153.34 L369.59,155.12 L370.50,156.90 L371.41,158.68 L372.32,160.46 L373.22,162.24 L374.13,164.03 L375.04,165.81 L375.94,167.61 L376.85,169.42 L377.76,171.28 L378.66,173.20 L379.57,175.14 L380.48,177.08 L381.39,179.00 L382.29,180.89 L383.20,182.71 L384.11,184.45 L385.01,186.08 L385.92,187.58 L386.83,189.05 L387.73,190.50 L388.64,191.86 L389.55,193.07 L390.46,194.05 L391.36,194.77 L392.27,195.41 L393.18,196.01 L394.08,196.58 L394.99,197.12 L395.90,197.63 L396.81,198.11 L397.71,198.55 L398.62,198.97 L399.53,199.35 L400.43,199.70 L401.34,200.02 L402.25,200.30 L403.15,200.56 L404.06,200.78 L404.97,200.98 L405.88,201.14 L406.78,201.29 L407.69,201.44 L408.60,201.58 L409.50,201.72 L410.41,201.85 L411.32,201.98 L412.22,202.10 L413.13,202.22 L414.04,202.33 L414.95,202.44 L415.85,202.54 L416.76,202.64 L417.67,202.73 L418.57,202.81 L419.48,202.89 L420.39,202.95 L421.29,203.01 L422.20,203.07 L423.11,203.11 L424.02,203.15 L424.92,203.17 L425.83,203.19 L426.74,203.20 L427.64,203.20 L428.55,203.20 L429.46,203.20 L430.37,203.20 L431.27,203.20 L432.18,203.20 L433.09,203.20 L433.99,203.20 L434.90,203.20 L435.81,203.20 L436.71,203.20 L437.62,203.20 L438.53,203.20 L439.44,203.20 L440.34,203.20 L441.25,203.20 L442.16,203.20 L443.06,203.20 L443.97,203.20 L444.88,203.20 L445.78,203.20 L446.69,203.20 L447.60,203.20 L448.51,203.20 L449.41,203.20 L450.32,203.20 L451.23,203.20 L452.13,203.20 L453.04,203.20 L453.95,203.20 L454.86,203.20 L455.76,203.20 L456.67,203.20 L457.58,203.20 L458.48,203.20 L459.39,203.20 L460.30,203.20 L461.20,203.20 L462.11,203.20 L463.02,203.20 L463.93,203.20 L464.83,203.20 L465.74,203.20 L466.65,203.20 L467.55,203.20 L468.46,203.20 L469.37,203.20 L470.27,203.20 L471.18,203.20 L472.09,203.20 L473.00,203.20 L473.90,203.20 L474.81,203.20 L475.72,203.20 L476.62,203.20 L477.53,203.20 L478.44,203.20 L479.35,203.20 L480.25,203.20 L481.16,203.20 L482.07,203.20 L482.97,203.20 L483.88,203.20 L484.79,203.20 L485.69,203.20 L486.60,203.20 L487.51,203.20 L488.42,203.20 L489.32,203.20 L490.23,203.20 L491.14,203.20 L492.04,203.20 L492.95,203.20 L493.86,203.20 L494.76,203.20 L495.67,203.20 L496.58,203.20 L497.49,203.20 L498.39,203.20 L499.30,203.20" fill="none" stroke="#000" stroke-width="2.0" stroke-linejoin="round" stroke-dasharray="2.4,1.4"/><line x1="336.85" y1="121.78" x2="336.85" y2="103.15" stroke="#000" stroke-width="1.5" /><line x1="334.10" y1="121.78" x2="339.60" y2="121.78" stroke="#000" stroke-width="1.5" /><line x1="334.10" y1="103.15" x2="339.60" y2="103.15" stroke="#000" stroke-width="1.5" /><line x1="354.90" y1="134.20" x2="354.90" y2="120.40" stroke="#000" stroke-width="1.5" /><line x1="352.15" y1="134.20" x2="357.65" y2="134.20" stroke="#000" stroke-width="1.5" /><line x1="352.15" y1="120.40" x2="357.65" y2="120.40" stroke="#000" stroke-width="1.5" /><line x1="391.00" y1="183.33" x2="391.00" y2="169.11" stroke="#000" stroke-width="1.5" /><line x1="388.25" y1="183.33" x2="393.75" y2="183.33" stroke="#000" stroke-width="1.5" /><line x1="388.25" y1="169.11" x2="393.75" y2="169.11" stroke="#000" stroke-width="1.5" /><line x1="336.85" y1="99.70" x2="336.85" y2="73.48" stroke="#000" stroke-width="1.5" /><line x1="334.10" y1="99.70" x2="339.60" y2="99.70" stroke="#000" stroke-width="1.5" /><line x1="334.10" y1="73.48" x2="339.60" y2="73.48" stroke="#000" stroke-width="1.5" /><line x1="391.00" y1="77.07" x2="391.00" y2="68.10" stroke="#000" stroke-width="1.5" /><line x1="388.25" y1="77.07" x2="393.75" y2="77.07" stroke="#000" stroke-width="1.5" /><line x1="388.25" y1="68.10" x2="393.75" y2="68.10" stroke="#000" stroke-width="1.5" /><line x1="427.10" y1="132.54" x2="427.10" y2="93.35" stroke="#000" stroke-width="1.5" /><line x1="424.35" y1="132.54" x2="429.85" y2="132.54" stroke="#000" stroke-width="1.5" /><line x1="424.35" y1="93.35" x2="429.85" y2="93.35" stroke="#000" stroke-width="1.5" /><line x1="463.20" y1="205.96" x2="463.20" y2="200.44" stroke="#000" stroke-width="1.5" /><line x1="460.45" y1="205.96" x2="465.95" y2="205.96" stroke="#000" stroke-width="1.5" /><line x1="460.45" y1="200.44" x2="465.95" y2="200.44" stroke="#000" stroke-width="1.5" /><rect x="313.90" y="60.30" width="9.80" height="9.80" fill="#000"/><rect x="331.95" y="105.84" width="9.80" height="9.80" fill="#000"/><rect x="350.00" y="119.64" width="9.80" height="9.80" fill="#000"/><rect x="386.10" y="171.67" width="9.80" height="9.80" fill="#000"/><rect x="422.20" y="193.06" width="9.80" height="9.80" fill="#000"/><rect x="458.30" y="198.30" width="9.80" height="9.80" fill="#000"/><rect x="494.40" y="198.30" width="9.80" height="9.80" fill="#000"/><path d="M318.80,59.80 L324.20,65.20 L318.80,70.60 L313.40,65.20 Z" fill="#fff" stroke="#000" stroke-width="1.7" stroke-linejoin="miter"/><path d="M336.85,85.19 L342.25,90.59 L336.85,95.99 L331.45,90.59 Z" fill="#fff" stroke="#000" stroke-width="1.7" stroke-linejoin="miter"/><path d="M354.90,119.83 L360.30,125.23 L354.90,130.63 L349.50,125.23 Z" fill="#fff" stroke="#000" stroke-width="1.7" stroke-linejoin="miter"/><path d="M391.00,189.24 L396.40,194.64 L391.00,200.04 L385.60,194.64 Z" fill="#fff" stroke="#000" stroke-width="1.7" stroke-linejoin="miter"/><path d="M427.10,197.80 L432.50,203.20 L427.10,208.60 L421.70,203.20 Z" fill="#fff" stroke="#000" stroke-width="1.7" stroke-linejoin="miter"/><path d="M463.20,197.80 L468.60,203.20 L463.20,208.60 L457.80,203.20 Z" fill="#fff" stroke="#000" stroke-width="1.7" stroke-linejoin="miter"/><path d="M499.30,197.80 L504.70,203.20 L499.30,208.60 L493.90,203.20 Z" fill="#fff" stroke="#000" stroke-width="1.7" stroke-linejoin="miter"/><circle cx="336.85" cy="86.31" r="5.00" fill="#858585" stroke="#000" stroke-width="1.5"/><circle cx="354.90" cy="73.20" r="5.00" fill="#858585" stroke="#000" stroke-width="1.5"/><circle cx="391.00" cy="68.10" r="5.00" fill="#858585" stroke="#000" stroke-width="1.5"/><circle cx="427.10" cy="112.53" r="5.00" fill="#858585" stroke="#000" stroke-width="1.5"/><circle cx="463.20" cy="172.98" r="5.00" fill="#858585" stroke="#000" stroke-width="1.5"/><circle cx="499.30" cy="187.47" r="5.00" fill="#858585" stroke="#000" stroke-width="1.5"/><line x1="319.40" y1="277.00" x2="319.40" y2="448.10" stroke="#000" stroke-width="1.8" /><line x1="315.40" y1="447.20" x2="319.40" y2="447.20" stroke="#000" stroke-width="1.6" /><text x="311.50" y="449.95" font-size="9" text-anchor="end" textLength="5.00" lengthAdjust="spacingAndGlyphs">0</text><line x1="315.40" y1="419.50" x2="319.40" y2="419.50" stroke="#000" stroke-width="1.6" /><text x="311.50" y="422.25" font-size="9" text-anchor="end" textLength="9.60" lengthAdjust="spacingAndGlyphs">20</text><line x1="315.40" y1="391.80" x2="319.40" y2="391.80" stroke="#000" stroke-width="1.6" /><text x="311.50" y="394.55" font-size="9" text-anchor="end" textLength="9.60" lengthAdjust="spacingAndGlyphs">40</text><line x1="315.40" y1="364.10" x2="319.40" y2="364.10" stroke="#000" stroke-width="1.6" /><text x="311.50" y="366.85" font-size="9" text-anchor="end" textLength="9.60" lengthAdjust="spacingAndGlyphs">60</text><line x1="315.40" y1="336.40" x2="319.40" y2="336.40" stroke="#000" stroke-width="1.6" /><text x="311.50" y="339.15" font-size="9" text-anchor="end" textLength="9.60" lengthAdjust="spacingAndGlyphs">80</text><line x1="315.40" y1="308.70" x2="319.40" y2="308.70" stroke="#000" stroke-width="1.6" /><text x="311.50" y="311.45" font-size="9" text-anchor="end" textLength="14.20" lengthAdjust="spacingAndGlyphs">100</text><line x1="315.40" y1="281.00" x2="319.40" y2="281.00" stroke="#000" stroke-width="1.6" /><text x="311.50" y="283.75" font-size="9" text-anchor="end" textLength="14.20" lengthAdjust="spacingAndGlyphs">120</text><line x1="318.50" y1="447.20" x2="499.40" y2="447.20" stroke="#000" stroke-width="1.8" /><line x1="319.40" y1="447.20" x2="319.40" y2="451.20" stroke="#000" stroke-width="1.6" /><text x="319.40" y="462.60" font-size="9" text-anchor="middle" textLength="5.00" lengthAdjust="spacingAndGlyphs">0</text><line x1="355.40" y1="447.20" x2="355.40" y2="451.20" stroke="#000" stroke-width="1.6" /><text x="355.40" y="462.60" font-size="9" text-anchor="middle" textLength="9.60" lengthAdjust="spacingAndGlyphs">20</text><line x1="391.40" y1="447.20" x2="391.40" y2="451.20" stroke="#000" stroke-width="1.6" /><text x="391.40" y="462.60" font-size="9" text-anchor="middle" textLength="9.60" lengthAdjust="spacingAndGlyphs">40</text><line x1="427.40" y1="447.20" x2="427.40" y2="451.20" stroke="#000" stroke-width="1.6" /><text x="427.40" y="462.60" font-size="9" text-anchor="middle" textLength="9.60" lengthAdjust="spacingAndGlyphs">60</text><line x1="463.40" y1="447.20" x2="463.40" y2="451.20" stroke="#000" stroke-width="1.6" /><text x="463.40" y="462.60" font-size="9" text-anchor="middle" textLength="9.60" lengthAdjust="spacingAndGlyphs">80</text><line x1="499.40" y1="447.20" x2="499.40" y2="451.20" stroke="#000" stroke-width="1.6" /><text x="499.40" y="462.60" font-size="9" text-anchor="middle" textLength="14.20" lengthAdjust="spacingAndGlyphs">100</text><text x="412.30" y="478.60" font-size="10.6" text-anchor="middle" textLength="87.00" lengthAdjust="spacingAndGlyphs">[Mitomycin C] (nM)</text><text x="450.30" y="290.60" font-size="9" text-anchor="start" textLength="59.20" lengthAdjust="spacingAndGlyphs">EUFA316 + AG</text><path d="M448.20,305.80 L480.20,305.80" fill="none" stroke="#000" stroke-width="2.0" stroke-linejoin="round" stroke-dasharray="2.4,1.4"/><path d="M463.70,300.20 L469.30,305.80 L463.70,311.40 L458.10,305.80 Z" fill="#fff" stroke="#000" stroke-width="1.8" stroke-linejoin="miter"/><text x="482.60" y="308.40" font-size="9" text-anchor="start" textLength="21.60" lengthAdjust="spacingAndGlyphs">0 mM</text><line x1="448.20" y1="326.20" x2="480.20" y2="326.20" stroke="#000" stroke-width="1.9" /><rect x="458.90" y="321.40" width="9.60" height="9.60" fill="#000"/><text x="482.60" y="329.20" font-size="9" text-anchor="start" textLength="28.60" lengthAdjust="spacingAndGlyphs">0.1 mM</text><line x1="448.20" y1="346.60" x2="480.20" y2="346.60" stroke="#7c7c7c" stroke-width="1.6" /><circle cx="463.70" cy="346.60" r="5.00" fill="#858585" stroke="#000" stroke-width="1.4"/><text x="483.60" y="349.60" font-size="9" text-anchor="start" textLength="20.40" lengthAdjust="spacingAndGlyphs">1 mM</text><path d="M319.40,310.78 L325.16,390.55 L330.92,395.95 L342.44,409.67 L365.48,440.97 L411.56,446.51 L503.72,445.12" fill="none" stroke="#7c7c7c" stroke-width="1.6" stroke-linejoin="round"/><path d="M319.40,310.78 L325.16,424.49 L330.92,435.43 L342.44,436.12 L365.48,439.44 L411.56,446.51 L503.72,443.18" fill="none" stroke="#000" stroke-width="1.9" stroke-linejoin="round"/><path d="M319.40,310.78 L325.16,414.79 L330.92,434.18 L342.44,440.00 L365.48,445.54 L411.56,447.20 L503.72,447.20" fill="none" stroke="#000" stroke-width="2.0" stroke-linejoin="round" stroke-dasharray="2.4,1.4"/><line x1="325.16" y1="390.55" x2="325.16" y2="385.01" stroke="#000" stroke-width="1.5" /><line x1="322.91" y1="390.55" x2="327.41" y2="390.55" stroke="#000" stroke-width="1.5" /><line x1="322.91" y1="385.01" x2="327.41" y2="385.01" stroke="#000" stroke-width="1.5" /><line x1="342.44" y1="417.84" x2="342.44" y2="401.63" stroke="#000" stroke-width="1.5" /><line x1="340.19" y1="417.84" x2="344.69" y2="417.84" stroke="#000" stroke-width="1.5" /><line x1="340.19" y1="401.63" x2="344.69" y2="401.63" stroke="#000" stroke-width="1.5" /><line x1="330.92" y1="443.05" x2="330.92" y2="429.89" stroke="#000" stroke-width="1.5" /><line x1="328.67" y1="443.05" x2="333.17" y2="443.05" stroke="#000" stroke-width="1.5" /><line x1="328.67" y1="429.89" x2="333.17" y2="429.89" stroke="#000" stroke-width="1.5" /><line x1="342.44" y1="442.21" x2="342.44" y2="431.55" stroke="#000" stroke-width="1.5" /><line x1="340.19" y1="442.21" x2="344.69" y2="442.21" stroke="#000" stroke-width="1.5" /><line x1="340.19" y1="431.55" x2="344.69" y2="431.55" stroke="#000" stroke-width="1.5" /><circle cx="325.16" cy="390.55" r="3.90" fill="#858585" stroke="#000" stroke-width="1.3"/><circle cx="330.92" cy="395.95" r="3.90" fill="#858585" stroke="#000" stroke-width="1.3"/><circle cx="342.44" cy="409.67" r="3.90" fill="#858585" stroke="#000" stroke-width="1.3"/><circle cx="365.48" cy="440.97" r="3.90" fill="#858585" stroke="#000" stroke-width="1.3"/><circle cx="411.56" cy="446.51" r="3.90" fill="#858585" stroke="#000" stroke-width="1.3"/><circle cx="503.72" cy="445.12" r="3.90" fill="#858585" stroke="#000" stroke-width="1.3"/><rect x="321.91" y="421.24" width="6.50" height="6.50" fill="#000"/><rect x="327.67" y="432.18" width="6.50" height="6.50" fill="#000"/><rect x="339.19" y="432.87" width="6.50" height="6.50" fill="#000"/><rect x="362.23" y="436.19" width="6.50" height="6.50" fill="#000"/><rect x="408.31" y="443.26" width="6.50" height="6.50" fill="#000"/><rect x="500.47" y="439.93" width="6.50" height="6.50" fill="#000"/><circle cx="319.30" cy="310.78" r="4.6" fill="#000"/><path d="M319.30,307.48 L322.60,310.78 L319.30,314.08 L316.00,310.78 Z" fill="#fff"/><path d="M325.16,410.79 L329.16,414.79 L325.16,418.79 L321.16,414.79 Z" fill="#fff" stroke="#000" stroke-width="1.6" stroke-linejoin="miter"/><path d="M330.92,430.18 L334.92,434.18 L330.92,438.18 L326.92,434.18 Z" fill="#fff" stroke="#000" stroke-width="1.6" stroke-linejoin="miter"/><path d="M342.44,436.00 L346.44,440.00 L342.44,444.00 L338.44,440.00 Z" fill="#fff" stroke="#000" stroke-width="1.6" stroke-linejoin="miter"/><path d="M365.48,441.54 L369.48,445.54 L365.48,449.54 L361.48,445.54 Z" fill="#fff" stroke="#000" stroke-width="1.6" stroke-linejoin="miter"/><path d="M411.56,443.20 L415.56,447.20 L411.56,451.20 L407.56,447.20 Z" fill="#fff" stroke="#000" stroke-width="1.6" stroke-linejoin="miter"/><path d="M503.72,443.20 L507.72,447.20 L503.72,451.20 L499.72,447.20 Z" fill="#fff" stroke="#000" stroke-width="1.6" stroke-linejoin="miter"/><line x1="63.80" y1="519.50" x2="63.80" y2="778.40" stroke="#000" stroke-width="1.8" /><line x1="59.80" y1="777.50" x2="63.80" y2="777.50" stroke="#000" stroke-width="1.6" /><text x="53.50" y="780.50" font-size="9" text-anchor="middle" textLength="5.00" lengthAdjust="spacingAndGlyphs">0</text><line x1="59.80" y1="714.11" x2="63.80" y2="714.11" stroke="#000" stroke-width="1.6" /><text x="53.30" y="717.11" font-size="9" text-anchor="middle" textLength="5.00" lengthAdjust="spacingAndGlyphs">3</text><line x1="59.80" y1="650.72" x2="63.80" y2="650.72" stroke="#000" stroke-width="1.6" /><text x="51.90" y="653.72" font-size="9" text-anchor="middle" textLength="5.00" lengthAdjust="spacingAndGlyphs">6</text><line x1="59.80" y1="587.33" x2="63.80" y2="587.33" stroke="#000" stroke-width="1.6" /><text x="50.80" y="590.33" font-size="9" text-anchor="middle" textLength="5.00" lengthAdjust="spacingAndGlyphs">9</text><line x1="59.80" y1="523.94" x2="63.80" y2="523.94" stroke="#000" stroke-width="1.6" /><text x="51.70" y="526.94" font-size="9" text-anchor="middle" textLength="10.20" lengthAdjust="spacingAndGlyphs">12</text><rect x="78.00" y="714.11" width="28.20" height="63.39" fill="#1c1c1c"/><line x1="92.10" y1="714.11" x2="92.10" y2="698.90" stroke="#000" stroke-width="1.7" /><line x1="84.30" y1="698.90" x2="99.90" y2="698.90" stroke="#000" stroke-width="1.7" /><rect x="134.50" y="573.81" width="28.20" height="203.69" fill="#7f7f7f"/><line x1="148.60" y1="573.81" x2="148.60" y2="560.07" stroke="#000" stroke-width="1.7" /><line x1="140.80" y1="560.07" x2="156.40" y2="560.07" stroke="#000" stroke-width="1.7" /><rect x="191.00" y="703.54" width="28.20" height="73.96" fill="#cbcbcb"/><line x1="205.10" y1="703.54" x2="205.10" y2="682.41" stroke="#000" stroke-width="1.7" /><line x1="197.30" y1="682.41" x2="212.90" y2="682.41" stroke="#000" stroke-width="1.7" /><line x1="62.90" y1="777.50" x2="233.00" y2="777.50" stroke="#000" stroke-width="1.8" /><text x="92.00" y="788.90" font-size="9" text-anchor="middle" textLength="29.40" lengthAdjust="spacingAndGlyphs">Control</text><text x="148.30" y="788.90" font-size="9" text-anchor="middle" textLength="11.60" lengthAdjust="spacingAndGlyphs">C3</text><text x="204.70" y="788.90" font-size="9" text-anchor="middle" textLength="41.40" lengthAdjust="spacingAndGlyphs">C3 + MET</text><text x="39.30" y="648.70" font-size="10.6" text-anchor="middle" textLength="50.70" lengthAdjust="spacingAndGlyphs" transform="rotate(-90 39.30 648.70)">Radials (%)</text><path d="M80.00,548.20 L80.00,545.00 L144.00,545.00 L144.00,548.20" fill="none" stroke="#111" stroke-width="1.4"/><text x="112.00" y="538.00" font-size="9" text-anchor="middle" textLength="40.00" lengthAdjust="spacingAndGlyphs"><tspan font-style="italic">P</tspan> &lt; 0.0001</text><path d="M156.30,555.70 L156.30,552.50 L220.50,552.50 L220.50,555.70" fill="none" stroke="#111" stroke-width="1.4"/><text x="187.80" y="545.50" font-size="9" text-anchor="middle" textLength="40.50" lengthAdjust="spacingAndGlyphs"><tspan font-style="italic">P</tspan> &lt; 0.0001</text><line x1="318.60" y1="520.00" x2="318.60" y2="778.10" stroke="#000" stroke-width="1.8" /><line x1="314.60" y1="777.20" x2="318.60" y2="777.20" stroke="#000" stroke-width="1.6" /><text x="305.00" y="780.20" font-size="9" text-anchor="middle" textLength="12.40" lengthAdjust="spacingAndGlyphs">0.0</text><line x1="314.60" y1="735.10" x2="318.60" y2="735.10" stroke="#000" stroke-width="1.6" /><text x="305.00" y="738.10" font-size="9" text-anchor="middle" textLength="12.40" lengthAdjust="spacingAndGlyphs">0.2</text><line x1="314.60" y1="693.00" x2="318.60" y2="693.00" stroke="#000" stroke-width="1.6" /><text x="305.00" y="696.00" font-size="9" text-anchor="middle" textLength="12.40" lengthAdjust="spacingAndGlyphs">0.4</text><line x1="314.60" y1="650.90" x2="318.60" y2="650.90" stroke="#000" stroke-width="1.6" /><text x="305.00" y="653.90" font-size="9" text-anchor="middle" textLength="12.40" lengthAdjust="spacingAndGlyphs">0.6</text><line x1="314.60" y1="608.80" x2="318.60" y2="608.80" stroke="#000" stroke-width="1.6" /><text x="305.00" y="611.80" font-size="9" text-anchor="middle" textLength="12.40" lengthAdjust="spacingAndGlyphs">0.8</text><line x1="314.60" y1="566.70" x2="318.60" y2="566.70" stroke="#000" stroke-width="1.6" /><text x="305.00" y="569.70" font-size="9" text-anchor="middle" textLength="12.40" lengthAdjust="spacingAndGlyphs">1.0</text><line x1="314.60" y1="524.60" x2="318.60" y2="524.60" stroke="#000" stroke-width="1.6" /><text x="305.00" y="527.60" font-size="9" text-anchor="middle" textLength="12.40" lengthAdjust="spacingAndGlyphs">1.2</text><rect x="333.20" y="728.79" width="28.20" height="48.41" fill="#1c1c1c"/><line x1="347.30" y1="728.79" x2="347.30" y2="719.94" stroke="#000" stroke-width="1.7" /><line x1="339.50" y1="719.94" x2="355.10" y2="719.94" stroke="#000" stroke-width="1.7" /><rect x="390.00" y="581.01" width="28.20" height="196.19" fill="#7f7f7f"/><line x1="404.10" y1="581.01" x2="404.10" y2="565.86" stroke="#000" stroke-width="1.7" /><line x1="396.30" y1="565.86" x2="411.90" y2="565.86" stroke="#000" stroke-width="1.7" /><rect x="446.80" y="689.63" width="28.20" height="87.57" fill="#cbcbcb"/><line x1="460.90" y1="689.63" x2="460.90" y2="685.21" stroke="#000" stroke-width="1.7" /><line x1="453.10" y1="685.21" x2="468.70" y2="685.21" stroke="#000" stroke-width="1.7" /><line x1="317.70" y1="777.20" x2="488.30" y2="777.20" stroke="#000" stroke-width="1.8" /><text x="347.50" y="788.60" font-size="9" text-anchor="middle" textLength="30.30" lengthAdjust="spacingAndGlyphs">Control</text><text x="403.80" y="788.60" font-size="9" text-anchor="middle" textLength="11.50" lengthAdjust="spacingAndGlyphs">C3</text><text x="460.00" y="788.60" font-size="9" text-anchor="middle" textLength="41.20" lengthAdjust="spacingAndGlyphs">C3 + MET</text><text x="292.80" y="648.00" font-size="10.6" text-anchor="middle" textLength="112.00" lengthAdjust="spacingAndGlyphs" transform="rotate(-90 292.80 648.00)">Chromosomal breaks (%)</text><path d="M334.50,546.70 L334.50,543.50 L398.50,543.50 L398.50,546.70" fill="none" stroke="#111" stroke-width="1.4"/><text x="365.90" y="536.50" font-size="9" text-anchor="middle" textLength="40.80" lengthAdjust="spacingAndGlyphs"><tspan font-style="italic">P</tspan> &lt; 0.0001</text><path d="M410.50,555.70 L410.50,552.50 L474.50,552.50 L474.50,555.70" fill="none" stroke="#111" stroke-width="1.4"/><text x="442.30" y="545.50" font-size="9" text-anchor="middle" textLength="35.50" lengthAdjust="spacingAndGlyphs"><tspan font-style="italic">P</tspan> &lt; 0.001</text></svg>
</body></html>
